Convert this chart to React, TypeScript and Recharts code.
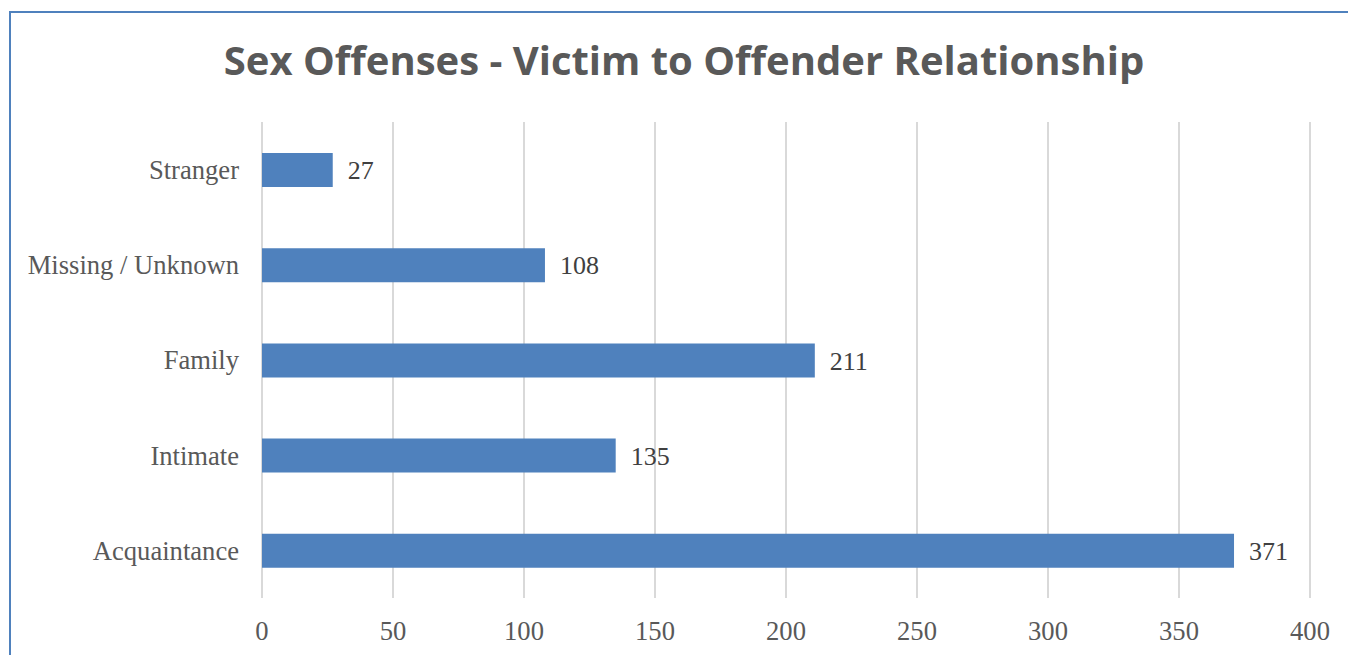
import { Bar, BarChart, CartesianGrid, LabelList, XAxis, YAxis } from "recharts"

const categories = ["Stranger", "Missing / Unknown", "Family", "Intimate", "Acquaintance"]
const counts = [27, 108, 211, 135, 371]
const xTicks = [0, 50, 100, 150, 200, 250, 300, 350, 400]

const data = categories.map((name, i) => ({ name, value: counts[i] }))

const serif = "'Liberation Serif', 'Times New Roman', serif"

export default function App() {
  return (
    <div style={{ position: "absolute", left: 0, top: 0, width: 1348, height: 655, background: "#fff", overflow: "hidden" }}>
      <div
        style={{
          position: "absolute",
          left: 9,
          top: 11,
          width: 1400,
          height: 700,
          borderLeft: "2px solid #4f81bd",
          borderTop: "2px solid #4f81bd",
        }}
      />
      <div
        style={{
          position: "absolute",
          left: 0,
          top: 35,
          width: 1368,
          textAlign: "center",
          fontFamily: "'Open Sans', sans-serif",
          fontWeight: 700,
          fontSize: 40,
          color: "#595959",
          lineHeight: "50px",
        }}
      >
        Sex Offenses - Victim to Offender Relationship
      </div>
      <div style={{ position: "absolute", left: 0, top: 0 }}>
        <BarChart
          width={1348}
          height={655}
          data={data}
          layout="vertical"
          margin={{ top: 122, right: 38, bottom: 0, left: 0 }}
          barCategoryGap="0%"
        >
          <CartesianGrid horizontal={false} stroke="#d9d9d9" strokeWidth={2} />
          <XAxis
            type="number"
            domain={[0, 400]}
            ticks={xTicks}
            axisLine={false}
            tickLine={false}
            tickSize={0}
            tickMargin={23}
            tick={{ fill: "#595959", fontSize: 26.6, fontFamily: serif }}
            height={57}
          />
          <YAxis
            type="category"
            dataKey="name"
            width={262}
            axisLine={false}
            tickLine={false}
            tickSize={0}
            tickMargin={23}
            tick={{ fill: "#595959", fontSize: 26.6, fontFamily: serif }}
          />
          <Bar dataKey="value" fill="#4f81bd" barSize={34} isAnimationActive={false}>
            <LabelList
              dataKey="value"
              position="right"
              offset={15}
              fill="#404040"
              fontSize={26}
              fontFamily={serif}
            />
          </Bar>
        </BarChart>
      </div>
    </div>
  )
}
